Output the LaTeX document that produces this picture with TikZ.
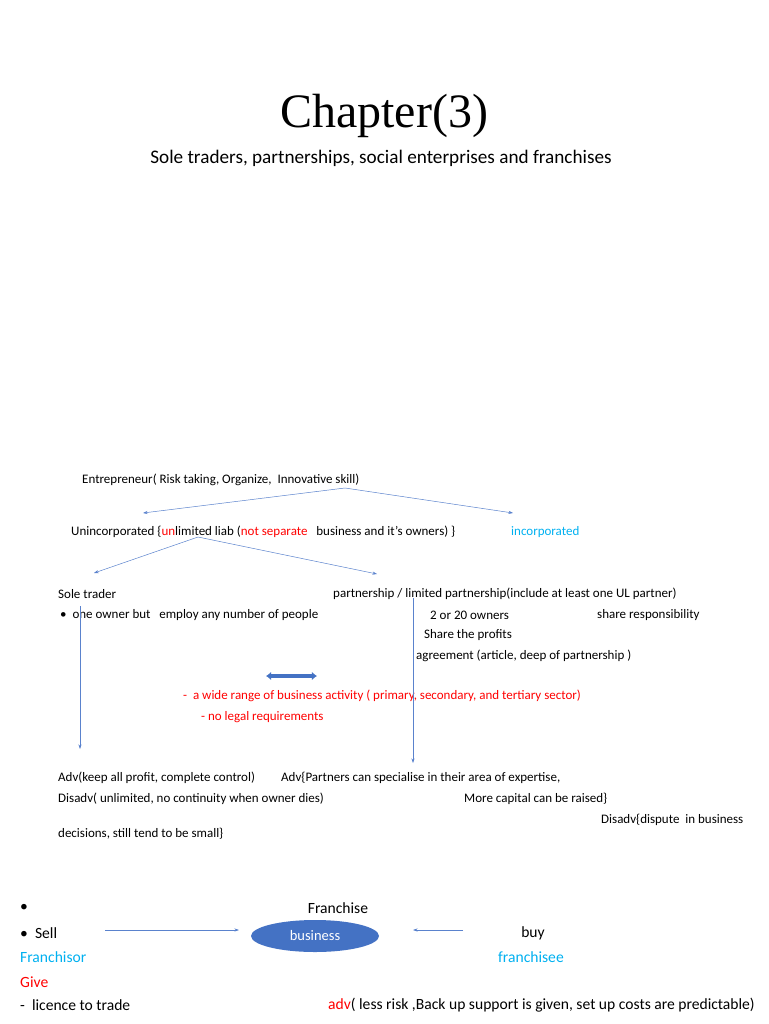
\documentclass[tikz,border=0pt]{standalone}
\usepackage{fontspec}
\setmainfont{Carlito}
\newfontfamily\titlefont{Liberation Serif}
\usepackage{xcolor}
\usetikzlibrary{arrows.meta, positioning, shapes.geometric}
\definecolor{skyblue}{RGB}{0,176,240}
\definecolor{alertred}{RGB}{255,0,0}
\definecolor{linkblue}{RGB}{90,130,205}
\definecolor{ovalblue}{RGB}{68,114,196}
\newcommand{\rd}[1]{\textcolor{alertred}{#1}}

\begin{document}
\begin{tikzpicture}[x=1pt, y=-1pt, every node/.style={font=\fontsize{13}{15}\selectfont},
      txt/.style={anchor=west, inner sep=0pt},
      big/.style={anchor=west, inner sep=0pt, font=\fontsize{15.6}{18}\selectfont},
      mid/.style={inner sep=0pt, font=\fontsize{15.6}{18}\selectfont},
      ar/.style={-{Stealth[length=1.6mm, width=1.1mm]}, draw=linkblue, line width=0.5pt},
      dbl/.style={{Latex[length=1.8mm, width=3mm]}-{Latex[length=1.8mm, width=3mm]}, draw=ovalblue, line width=3.2pt}]
    \useasboundingbox (0,0) rectangle (768,1024);
    % heading
    \node (title) at (384,116) {\titlefont\fontsize{48}{54}\selectfont Chapter(3)};
    \node (sub) at (381,158) {\fontsize{19.2}{22}\selectfont Sole traders, partnerships, social enterprises and franchises};

    % business types
    \node[txt] (ent) at (82,480) {Entrepreneur( Risk taking, Organize,\ \ Innovative skill)};
    \node[txt] (uninc) at (71,532) {Unincorporated \{\rd{un}limited liab (\rd{not separate}\ \ \ business and it’s owners) \}};
    \node[txt, text=skyblue] (inc) at (511,532) {incorporated};
    \coordinate (e0) at (345,488);
    \coordinate (e1) at (143,513);
    \coordinate (e2) at (513,513);
    \draw[ar] (e0) -- (e1); \draw[ar] (e0) -- (e2);
    \coordinate (u0) at (198,537);
    \coordinate (u1) at (94,573);
    \coordinate (u2) at (377,574);
    \draw[ar] (u0) -- (u1); \draw[ar] (u0) -- (u2);

    \node[txt] (sole) at (58,594) {Sole trader};
    \node[txt] (part) at (333,594) {partnership / limited partnership(include at least one UL partner)};
    \node[txt] (own1) at (60,615) {\textbullet\ \ one owner but\ \ \ employ any number of people};
    \node[txt] (own2) at (430,615) {2 or 20 owners};
    \node[txt] (resp) at (597,615) {share responsibility};
    \node[txt] (prof) at (424,635) {Share the profits};
    \node[txt] (agr) at (416,656) {agreement (article, deep of partnership )};
    \coordinate (h1) at (266,676);
    \coordinate (h2) at (317,676);
    \draw[dbl] (h1) -- (h2);
    \node[txt, text=alertred] (range) at (183,696) {-\ \ a wide range of business activity ( primary, secondary, and tertiary sector)};
    \node[txt, text=alertred] (legal) at (201,717) {- no legal requirements};
    \coordinate (s0) at (80,606);
    \coordinate (s1) at (80,749);
    \coordinate (p0) at (413,598);
    \coordinate (p1) at (413,763);
    \draw[ar] (s0) -- (s1); \draw[ar] (p0) -- (p1);

    \node[txt] (adv1) at (58,778) {Adv(keep all profit, complete control)};
    \node[txt] (adv2) at (281,778) {Adv\{Partners can specialise in their area of expertise,};
    \node[txt] (dis1) at (58,799) {Disadv( unlimited, no continuity when owner dies)};
    \node[txt] (cap) at (464,799) {More capital can be raised\}};
    \node[txt] (dis2) at (601,820) {Disadv\{dispute\ \ in business};
    \node[txt] (dis3) at (58,834) {decisions, still tend to be small\}};

    % franchise
    \node[big] (b1) at (20,908) {\textbullet};
    \node[big] (sell) at (20,933) {\textbullet\ \ Sell};
    \node[mid] (fr) at (338,908) {Franchise};
    \node[ellipse, fill=ovalblue, minimum width=128pt, minimum height=32pt, inner sep=0pt,
          text=white, font=\fontsize{14.5}{17}\selectfont] (bus) at (315,936) {business};
    \node[mid] (buy) at (533,933) {buy};
    \coordinate (l0) at (105,930);
    \coordinate (l1) at (239,930);
    \coordinate (r0) at (463,930);
    \coordinate (r1) at (413,930);
    \draw[ar] (l0) -- (l1); \draw[ar] (r0) -- (r1);
    \node[big, text=skyblue] (fsor) at (20,957) {Franchisor};
    \node[mid, text=skyblue] (fsee) at (531,957) {franchisee};
    \node[big, text=alertred] (give) at (20,982) {Give};
    \node[big] (lic) at (20,1005) {-\ \ licence to trade};
    \node[big] (adv3) at (328,1005) {\rd{adv}( less risk ,Back up support is given, set up costs are predictable)};
  \end{tikzpicture}
\end{document}
